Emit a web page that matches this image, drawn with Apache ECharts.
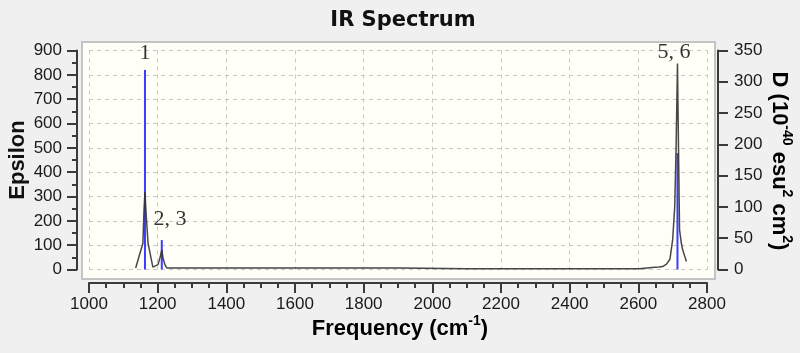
<!DOCTYPE html>
<html>
<head>
<meta charset="utf-8">
<script src="https://cdn.jsdelivr.net/npm/echarts@6/dist/echarts.min.js"></script>
<style>
html,body{margin:0;padding:0;background:#f0f0f0;}
#c{width:800px;height:353px;}
</style>
</head>
<body>
<div id="c"></div>
<script>
// Broadened spectrum (frequency cm^-1, epsilon)
var curveFreq = [1136, 1157, 1160, 1163, 1166, 1172, 1186, 1201, 1207, 1212, 1216, 1221, 1227, 1400, 1600, 1800, 1912, 1915, 2100, 2300, 2500, 2603, 2606, 2640, 2660, 2671, 2682, 2692, 2700, 2706, 2710, 2714, 2717, 2720, 2725, 2729, 2735, 2740];
var curveEps  = [6, 108, 236, 319, 236, 108, 10, 20, 50, 80, 45, 20, 6, 6, 6, 6, 6, 3, 3, 3, 3, 3, 6, 8, 10, 12, 22, 42, 123, 258, 500, 847, 500, 164, 110, 82, 55, 33];
// Stick spectrum (frequency, D in 10^-40 esu^2 cm^2)
var stickFreq = [1163, 1212, 2714];
var stickD    = [319, 47, 186];
// Peak annotations
var annoText = ['1', '2, 3', '5, 6'];
var annoFreq = [1163, 1236, 2704];
var annoEps  = [890, 207, 894];

var curveData = curveFreq.map(function (f, i) { return [f, curveEps[i]]; });
var stickData = stickFreq.map(function (f, i) { return [f, stickD[i]]; });
var annoData = annoText.map(function (t, i) { return {name: t, value: [annoFreq[i], annoEps[i]]}; });

var chart = echarts.init(document.getElementById('c'), null, {renderer: 'canvas'});
var axisColor = '#3a3a3a';
var labelFont = {fontFamily: 'Liberation Sans', fontSize: 17, color: '#1a1a1a',
                 formatter: function (v) { return String(v); }};
var boldName = {fontFamily: 'Liberation Sans', fontWeight: 'bold', fontSize: 22, color: '#111', verticalAlign: 'bottom', lineHeight: 26};
var boldSup = {fontFamily: 'Liberation Sans', fontWeight: 'bold', fontSize: 14, color: '#111', verticalAlign: 'top', lineHeight: 26};
chart.setOption({
  backgroundColor: '#f0f0f0',
  animation: false,
  title: {
    text: 'IR Spectrum', left: 398, top: 5, textAlign: 'center',
    textStyle: {fontFamily: 'DejaVu Sans', fontWeight: 'bold', fontSize: 21, color: '#111'}
  },
  grid: {left: 89, right: 93, top: 50.5, bottom: 83.5, containLabel: false},
  graphic: [
    {type: 'rect', z: -10, shape: {x: 82, y: 42, width: 633, height: 237},
     style: {fill: '#fffff8', stroke: '#c4c4c4', lineWidth: 2}},
    {type: 'text', x: 400, y: 327, style: {
      text: '{b|Frequency (cm}{s|-1}{b|)}', align: 'center', verticalAlign: 'middle',
      rich: {b: boldName, s: boldSup}
    }},
    {type: 'text', x: 18, y: 160, rotation: Math.PI / 2, style: {
      text: 'Epsilon', align: 'center', verticalAlign: 'middle',
      fontFamily: 'Liberation Sans', fontWeight: 'bold', fontSize: 22, fill: '#111'
    }},
    {type: 'text', x: 781, y: 161, rotation: -Math.PI / 2, style: {
      text: '{b|D (10}{s|-40}{b| esu}{s|2}{b| cm}{s|2}{b|)}', align: 'center', verticalAlign: 'middle',
      rich: {b: boldName, s: boldSup}
    }}
  ],
  xAxis: {
    type: 'value', min: 1000, max: 2800, interval: 200, offset: 13.5,
    axisLine: {show: true, onZero: false, lineStyle: {color: axisColor, width: 2}},
    axisTick: {show: true, length: 10, lineStyle: {color: axisColor, width: 2}},
    minorTick: {show: true, splitNumber: 4, length: 5, lineStyle: {color: axisColor, width: 2}},
    axisLabel: Object.assign({margin: 13}, labelFont),
    splitLine: {show: true, lineStyle: {color: '#c8c8c8', type: [4, 4], width: 1}}
  },
  yAxis: [
    {
      type: 'value', min: 0, max: 900, interval: 100, offset: 12, position: 'left',
      axisLine: {show: true, lineStyle: {color: axisColor, width: 2}},
      axisTick: {show: true, length: 10, lineStyle: {color: axisColor, width: 2}},
      minorTick: {show: true, splitNumber: 2, length: 5, lineStyle: {color: axisColor, width: 2}},
      axisLabel: Object.assign({margin: 15}, labelFont),
      splitLine: {show: true, lineStyle: {color: '#c8c8c8', type: [4, 4], width: 1}}
    },
    {
      type: 'value', min: 0, max: 350, interval: 50, offset: 11, position: 'right',
      axisLine: {show: true, lineStyle: {color: axisColor, width: 2}},
      axisTick: {show: true, length: 10, lineStyle: {color: axisColor, width: 2}},
      axisLabel: Object.assign({margin: 16}, labelFont),
      splitLine: {show: false}
    }
  ],
  series: [
    {
      type: 'bar', yAxisIndex: 1, data: stickData, barWidth: 2, z: 3,
      itemStyle: {color: '#3c3cff'}
    },
    {
      type: 'line', yAxisIndex: 0, data: curveData, showSymbol: false, z: 4,
      lineStyle: {color: '#333333', width: 1.5, opacity: 0.9}
    },
    {
      type: 'scatter', yAxisIndex: 0, data: annoData, symbolSize: 0, z: 5,
      label: {show: true, position: 'inside', formatter: '{b}',
              fontFamily: 'Liberation Serif', fontSize: 22, color: '#000'}
    }
  ]
});
</script>
</body>
</html>
